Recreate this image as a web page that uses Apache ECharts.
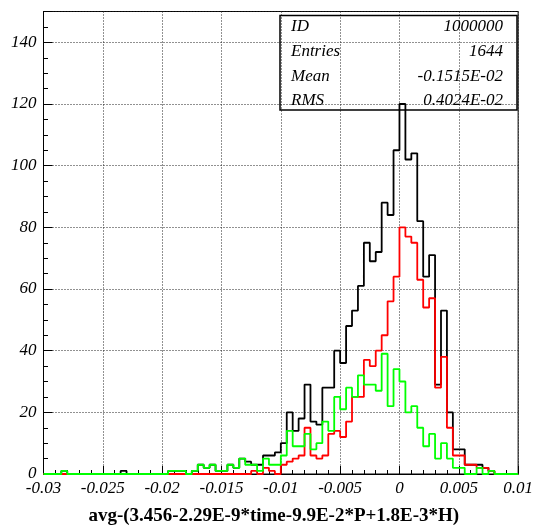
<!DOCTYPE html>
<html><head><meta charset="utf-8">
<script src="https://cdn.jsdelivr.net/npm/echarts@6/dist/echarts.min.js"></script>
<style>html,body{margin:0;padding:0;background:#fff}#c{width:536px;height:531px}</style>
</head><body><div id="c"></div>
<script>
// ---- data ----
const xMin = -0.03, xMax = 0.01, binWidth = 0.0005;
const xTickLabels = ['-0.03','-0.025','-0.02','-0.015','-0.01','-0.005','0','0.005','0.01'];
const yTickLabels = ['0','20','40','60','80','100','120','140'];
const blackCounts = [
  0,0,0,1,0,0,0,0,0,0, 0,0,0,1,0,0,0,0,0,0,
  0,1,1,1,0,1,3,2,3,1, 1,3,2,5,4,3,3,6,6,7,
  10,20,14,18,29,17,16,28,28,40, 36,48,53,61,75,69,72,88,84,105,
  120,102,104,82,64,71,29,53,20,8, 8,3,3,3,2,1,0,0,0,0
];
const redCounts = [
  0,0,0,0,0,0,0,0,0,0, 0,0,0,0,0,0,0,0,0,0,
  0,0,0,0,0,0,0,0,0,0, 0,0,0,0,0,1,0,2,1,0,
  3,4,5,6,15,6,5,6,13,14, 12,17,25,25,37,35,40,45,56,64,
  80,77,75,63,54,57,28,38,15,6, 6,3,3,2,2,1,0,0,0,0
];
const greenCounts = [
  0,0,0,1,0,0,0,0,0,0, 0,0,0,0,0,0,0,0,0,0,
  0,1,1,1,0,1,3,2,3,1, 1,3,2,5,3,3,1,5,3,3,
  6,14,9,9,13,8,10,17,14,25, 21,28,25,32,29,29,27,39,22,34,
  30,20,22,15,9,13,5,10,5,2, 2,0,0,2,0,1,0,0,0,0
];
const statLabels = ['ID','Entries','Mean','RMS'];
const statValues = ['1000000','1644','-0.1515E-02','0.4024E-02'];
const xTitle = 'avg-(3.456-2.29E-9*time-9.9E-2*P+1.8E-3*H)';

// ---- build step data from bin edges ----
function histData(counts){
  const d = [];
  for (let i = 0; i < counts.length; i++) d.push([xMin + i*binWidth, counts[i]]);
  d.push([xMin + counts.length*binWidth, counts[counts.length-1]]);
  return d;
}

const FONT = '"Liberation Serif","Times New Roman",serif';
const chart = echarts.init(document.getElementById('c'), null, {renderer:'canvas'});

const statY = [27, 52, 77, 101];
const graphics = [{
  type:'rect', shape:{x:280, y:15.5, width:237, height:94.5},
  style:{fill:'none', stroke:'#000', lineWidth:1.5}, z:100
}];
statLabels.forEach((s,i)=>{
  graphics.push({type:'text', x:291, y:statY[i], z:101,
    style:{text:s, font:'italic 17px '+FONT, fill:'#000', textAlign:'left', textVerticalAlign:'middle'}});
  graphics.push({type:'text', x:503, y:statY[i], z:101,
    style:{text:statValues[i], font:'italic 17px '+FONT, fill:'#000', textAlign:'right', textVerticalAlign:'middle'}});
});

const dotted = {type:[1,2], color:'#222', width:1};

chart.setOption({
  animation:false,
  backgroundColor:'#fff',
  grid:{left:43.5, right:16.5, top:11.5, bottom:43, show:true, borderColor:'#000', borderWidth:1, containLabel:false},
  xAxis:{
    type:'value', min:xMin, max:xMax, interval:0.005,
    name:xTitle, nameLocation:'middle', nameGap:33,
    nameTextStyle:{fontFamily:FONT, fontWeight:'bold', fontSize:19, color:'#000', padding:[0,14,0,0]},
    axisLine:{show:true, onZero:false, lineStyle:{color:'#000', width:1}},
    axisTick:{show:true, inside:true, length:8, lineStyle:{color:'#000', width:1}},
    minorTick:{show:true, splitNumber:5, length:4, lineStyle:{color:'#000', width:1}},
    axisLabel:{margin:6, fontFamily:FONT, fontStyle:'italic', fontSize:17, color:'#000',
      formatter:v=>{const k=Math.round((v-xMin)/0.005); return xTickLabels[k] ?? '';}},
    splitLine:{show:true, lineStyle:dotted}
  },
  yAxis:{
    type:'value', min:0, max:150, interval:20,
    axisLine:{show:true, onZero:false, lineStyle:{color:'#000', width:1}},
    axisTick:{show:true, inside:true, length:9, lineStyle:{color:'#000', width:1}},
    minorTick:{show:true, splitNumber:4, length:4.5, lineStyle:{color:'#000', width:1}},
    axisLabel:{margin:7, fontFamily:FONT, fontStyle:'italic', fontSize:17, color:'#000',
      formatter:v=>{ if (Math.abs(v%20)>1e-9) return ''; return yTickLabels[Math.round(v/20)] ?? ''; }},
    splitLine:{show:true, lineStyle:dotted}
  },
  series:[
    {type:'line', name:'all', step:'end', symbol:'none', data:histData(blackCounts),
      lineStyle:{color:'#000', width:1.8}, itemStyle:{color:'#000'}, z:3},
    {type:'line', name:'red', step:'end', symbol:'none', data:histData(redCounts),
      lineStyle:{color:'#ff0000', width:1.8}, itemStyle:{color:'#ff0000'}, z:4},
    {type:'line', name:'green', step:'end', symbol:'none', data:histData(greenCounts),
      lineStyle:{color:'#00ff00', width:1.8}, itemStyle:{color:'#00ff00'}, z:5}
  ],
  graphic:graphics
});
</script></body></html>
